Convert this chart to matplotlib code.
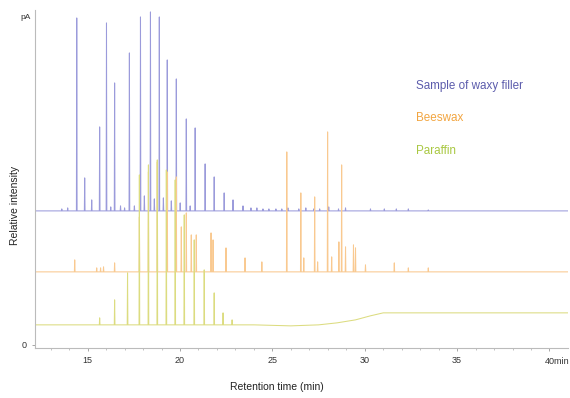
import numpy as np
import matplotlib
matplotlib.use('Agg')
import matplotlib.pyplot as plt

plt.rcParams['font.family'] = ['Liberation Sans', 'DejaVu Sans']

# peak retention times (min) and heights above each trace's own baseline
filler_t = [13.60, 13.92, 14.41, 14.84, 15.22, 15.65, 16.02, 16.25, 16.46, 16.78, 17.00,
            17.26, 17.53, 17.86, 18.07, 18.40, 18.61, 18.88, 19.10, 19.31, 19.53, 19.80,
            20.01, 20.34, 20.55, 20.82, 21.36, 21.85, 22.39, 22.87, 23.41, 23.84, 24.16,
            24.49, 24.81, 25.19, 25.51, 25.84, 26.43, 26.81, 27.24, 27.56, 28.05, 28.58,
            28.96, 30.31, 31.06, 31.71, 32.36, 33.44]
filler_h = [2, 3, 193, 33, 11, 84, 188, 4, 128, 5, 3,
            158, 5, 194, 15, 199, 12, 194, 13, 151, 10, 132,
            8, 92, 5, 83, 47, 34, 18, 11, 5, 3, 3,
            2, 2, 2, 2, 3, 2, 3, 2, 2, 4, 2,
            3, 2, 2, 2, 2, 1]

beeswax_t = [14.30, 15.49, 15.70, 15.86, 16.46, 17.80, 18.29, 18.77, 19.31, 19.80, 20.07,
             20.34, 20.61, 20.88, 21.68, 21.79, 22.49, 23.52, 24.43, 25.78, 26.54, 26.70,
             27.29, 27.45, 27.99, 28.21, 28.60, 28.75, 28.96, 29.39, 29.50, 30.04, 31.60,
             32.36, 33.44]
beeswax_h = [12, 4, 4, 5, 9, 55, 100, 110, 100, 95, 45,
             59, 37, 37, 39, 32, 24, 14, 10, 120, 79, 14,
             75, 10, 140, 15, 30, 107, 25, 27, 24, 7, 9,
             4, 4]

paraffin_t = [15.65, 16.46, 17.16, 17.80, 18.29, 18.77, 19.26, 19.74, 20.23, 20.77,
              21.31, 21.85, 22.33, 22.82]
paraffin_h = [7, 25, 52, 150, 160, 165, 155, 145, 110, 85, 55, 32, 12, 5]

# baseline levels (relative intensity units)
filler_base = 134
beeswax_base = 73
# paraffin baseline drifts up with the oven ramp
paraffin_bt = [12.2, 24.0, 26.0, 27.5, 28.5, 29.5, 30.3, 31.0, 41.0]
paraffin_bv = [20, 20, 19, 20, 22, 25, 29, 32, 32]

t_start, t_end = 12.2, 41.0


def trace(times, heights, base_t, base_v, w=0.018):
    xs = list(base_t)
    for t in times:
        xs += [t - w, t, t + w]
    xs = np.array(sorted(xs))
    ys = np.interp(xs, base_t, base_v)
    for t, h in zip(times, heights):
        ys[np.isclose(xs, t)] += h
    return xs, ys


fig = plt.figure(figsize=(5.7, 3.98), dpi=100)
ax = fig.add_axes([0.0614, 0.126, 0.935, 0.849])

x, y = trace(filler_t, filler_h, [t_start, t_end], [filler_base, filler_base])
ax.plot(x, y, color='#9b9bdb', lw=0.75)
x, y = trace(beeswax_t, beeswax_h, [t_start, t_end], [beeswax_base, beeswax_base])
ax.plot(x, y, color='#f9c990', lw=0.75)
x, y = trace(paraffin_t, paraffin_h, paraffin_bt, paraffin_bv)
ax.plot(x, y, color='#dcdc80', lw=0.75)

ax.set_xlim(12.15, 41.0)
ax.set_ylim(-3, 335)
ax.set_xticks([15, 20, 25, 30, 35, 40])
ax.set_xticklabels(['15', '20', '25', '30', '35', ''])
ax.set_xticks(np.arange(13, 41, 1), minor=True)
ax.set_yticks([0])
ax.tick_params(axis='both', labelsize=6.5, colors='#999999', labelcolor='#333333',
               length=2, width=0.6, pad=4)
ax.tick_params(axis='x', which='minor', length=1.5, width=0.5, colors='#aaaaaa')
for s in ['top', 'right']:
    ax.spines[s].set_visible(False)
for s in ['left', 'bottom']:
    ax.spines[s].set_color('#bbbbbb')
    ax.spines[s].set_linewidth(0.8)

# last tick carries the unit
ax.text(39.75, -12.5, '40min', fontsize=6.5, color='#333333', va='top', ha='left')
ax.text(-0.008, 0.978, 'pA', transform=ax.transAxes, fontsize=6, color='#333333',
        ha='right', va='center')

ax.set_xlabel('Retention time (min)', fontsize=7.5, color='#222222')
ax.xaxis.set_label_coords(0.454, -0.10)
ax.set_ylabel('Relative intensity', fontsize=7.5, color='#222222')
ax.yaxis.set_label_coords(-0.028, 0.42)

ax.text(0.715, 0.765, 'Sample of waxy filler', transform=ax.transAxes, fontsize=8.4,
        color='#5c5cac')
ax.text(0.715, 0.672, 'Beeswax', transform=ax.transAxes, fontsize=8.4, color='#f2a540')
ax.text(0.715, 0.575, 'Paraffin', transform=ax.transAxes, fontsize=8.4, color='#a9c842')

fig.savefig('out.png', dpi=100)
